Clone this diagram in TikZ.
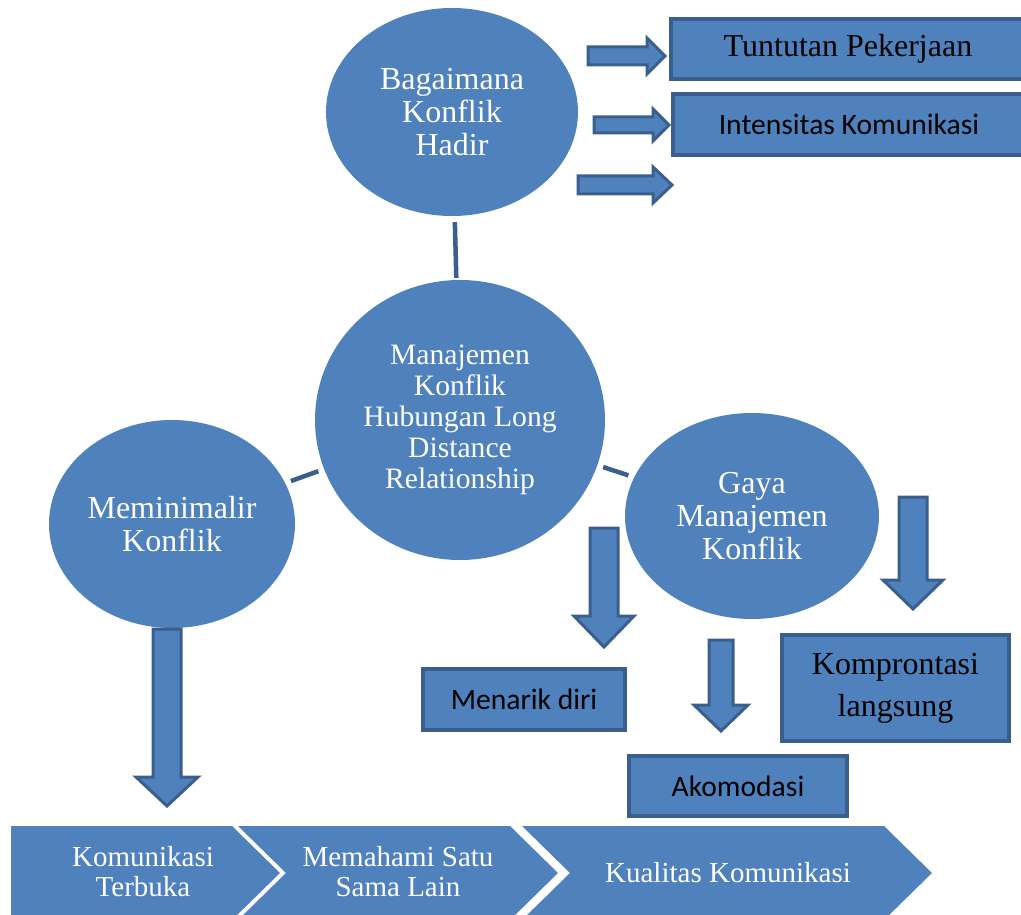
\documentclass[tikz,border=0pt]{standalone}
\usepackage{fontspec}
\setmainfont{Liberation Serif}
\newfontfamily\calibri{Carlito}
\usetikzlibrary{shapes.geometric}
\definecolor{smblue}{HTML}{4F81BD}
\definecolor{smblueD}{HTML}{3A5F8C}

% block arrows: tail, head base, tip, centre, shaft half, head half
\newcommand{\rightblk}[6]{\draw[blockarr] (#1,#4-#5) -- (#2,#4-#5) -- (#2,#4-#6) -- (#3,#4)
  -- (#2,#4+#6) -- (#2,#4+#5) -- (#1,#4+#5) -- cycle;}
\newcommand{\downblk}[6]{\draw[blockarr] (#4-#5,#1) -- (#4+#5,#1) -- (#4+#5,#2) -- (#4+#6,#2)
  -- (#4,#3) -- (#4-#6,#2) -- (#4-#5,#2) -- cycle;}

\begin{document}
\begin{tikzpicture}[x=1pt, y=-1pt,
      bubble/.style={ellipse, fill=smblue, text=white, align=center, inner sep=0pt,
                     font=\fontsize{32}{33}\selectfont},
      box/.style={draw=smblueD, line width=4pt, fill=smblue, align=center, inner sep=0pt},
      link/.style={draw=smblueD, line width=4.5pt, shorten <=5pt, shorten >=4pt},
      blockarr/.style={draw=smblueD, line width=3pt, fill=smblue, line join=miter},
      chevtext/.style={text=white, align=center, font=\fontsize{29}{30}\selectfont}
    ]
    \useasboundingbox (0,0) rectangle (1021,915);
    \clip (0,0) rectangle (1021,915);

    % Circles
    \node[bubble, minimum width=252pt, minimum height=208pt] (hadir) at (452,112)
      {Bagaimana\\Konflik\\Hadir};
    \node[bubble, minimum width=290pt, minimum height=280pt,
          font=\fontsize{29.6}{31}\selectfont] (mk) at (460,420)
      {Manajemen\\Konflik\\Hubungan Long\\Distance\\Relationship};
    \node[bubble, minimum width=246pt, minimum height=208pt] (minim) at (172,524)
      {Meminimalir\\Konflik};
    \node[bubble, minimum width=254pt, minimum height=206pt] (gaya) at (752,516)
      {Gaya\\Manajemen\\Konflik};

    \draw[link, shorten <=6pt, shorten >=2pt] (hadir) -- (mk);
    \draw[link, shorten <=6pt, shorten >=6pt] (minim) -- (mk);
    \draw[link, shorten <=6pt, shorten >=6pt] (mk) -- (gaya);

    % Top boxes
    \node[box, minimum width=354pt, minimum height=60pt, font=\fontsize{32}{33}\selectfont]
      (tuntutan) at (848,49) {\raisebox{-3pt}{Tuntutan Pekerjaan}};
    \node[box, minimum width=352pt, minimum height=61pt, font=\calibri\fontsize{29.6}{31}\selectfont]
      (intens) at (849,124.5) {Intensitas Komunikasi};
    \rightblk{588}{647}{665}{56}{9}{18}
    \rightblk{594}{653}{669}{125}{8}{16}
    \rightblk{578}{653}{672}{185}{9}{18}

    % Lower boxes
    \node[box, minimum width=202pt, minimum height=61pt, font=\calibri\fontsize{29.6}{31}\selectfont]
      (menarik) at (524,699.5) {Menarik diri};
    \node[box, minimum width=218pt, minimum height=60pt, font=\calibri\fontsize{29.6}{31}\selectfont]
      (akom) at (738,786) {Akomodasi};
    \node[box, minimum width=227pt, minimum height=106pt, font=\fontsize{32}{42}\selectfont]
      (kompr) at (895.5,688) {\raisebox{-3pt}{\parbox{200pt}{\centering Komprontasi\\langsung}}};
    \downblk{629}{777}{806}{167}{14}{31}
    \downblk{528}{616}{647}{604}{14}{30}
    \downblk{640}{705}{731}{721}{12}{27}
    \downblk{497}{580}{609}{913}{14}{30}

    % Bottom chevrons
    \fill[smblue] (11,826) -- (232,826) -- (280,873) -- (232,920) -- (11,920) -- cycle;
    \fill[smblue] (238,826) -- (510,826) -- (558,873) -- (510,920) -- (238,920)
      -- (286,873) -- cycle;
    \fill[smblue] (522,826) -- (884,826) -- (932,873) -- (884,920) -- (522,920)
      -- (570,873) -- cycle;
    \node[chevtext] (terbuka) at (143,872) {Komunikasi\\Terbuka};
    \node[chevtext] (memahami) at (398,872) {Memahami Satu\\Sama Lain};
    \node[chevtext] (kualitas) at (728,873) {Kualitas Komunikasi};
  \end{tikzpicture}
\end{document}
